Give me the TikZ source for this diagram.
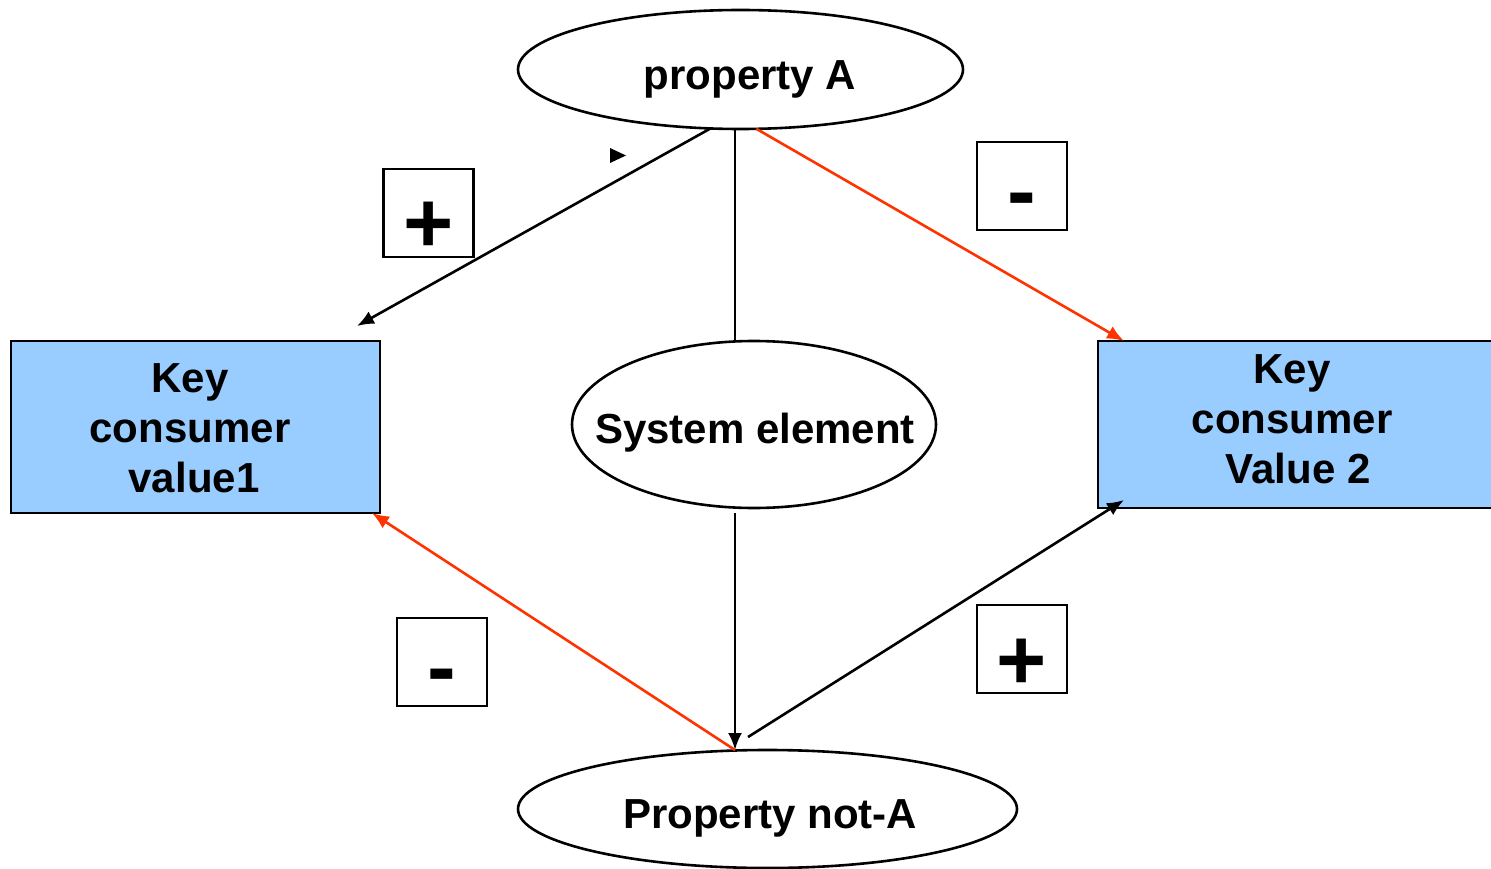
\documentclass[tikz,border=0pt]{standalone}
\usepackage{fontspec}
\setmainfont{Liberation Sans}
\usetikzlibrary{shapes.geometric,arrows.meta,calc}
\definecolor{keyblue}{HTML}{99CCFF}
\definecolor{negred}{HTML}{FF3300}
\tikzset{
  prop/.style={ellipse, draw, line width=2.6pt, inner sep=0pt, outer sep=0pt,
    text depth=0pt, font=\fontsize{42}{50}\selectfont\bfseries},
  keybox/.style={rectangle, draw, fill=keyblue, line width=2.6pt, inner sep=0pt,
    outer sep=0pt},
  keytext/.style={inner sep=0pt, align=center, font=\fontsize{42}{50}\selectfont\bfseries},
  signbox/.style={rectangle, draw, line width=2.4pt, minimum width=90pt,
    minimum height=88pt, inner sep=0pt, outer sep=0pt},
  sign/.style={inner sep=0pt, anchor=base, font=\fontsize{86}{86}\selectfont\bfseries},
  link/.style={line width=2.6pt},
  arr/.style={link, -{Latex[length=17pt,width=14pt]}},
}
\begin{document}
\begin{tikzpicture}[x=1pt,y=-1pt]
\useasboundingbox (0,0) rectangle (1491,869);
\clip (0,0) rectangle (1491,869);

% properties and the system element (text sits on a fixed baseline)
\node[prop, minimum width=445pt, minimum height=119pt, text height=41pt] (pa)
  at (740.5,69.5) {\makebox[0pt]{\hspace{19pt}property A}};
\node[prop, minimum width=364pt, minimum height=167pt, text height=37pt] (se)
  at (754,424.5) {\makebox[0pt]{\hspace{2pt}System element}};
\node[prop, minimum width=499pt, minimum height=118pt, text height=38pt] (pn)
  at (767.5,809) {\makebox[0pt]{\hspace{5pt}Property not-A}};

% key consumer values
\node[keybox, minimum width=369pt, minimum height=172pt] (k1) at (195.5,427) {};
\node[keytext] (k1t) at (190,428) {Key\\consumer\\\hspace{8pt}value1};
\node[keybox, minimum width=402pt, minimum height=167pt] (k2) at (1299,424.5) {};
\node[keytext] (k2t) at (1292,419) {Key\\consumer\\\hspace{12pt}Value 2};

% sign boxes
\node[signbox] (sp1) at (428.5,213) {};
\node[sign] (gp1) at (428.5,252) {+};
\node[signbox] (sm1) at (1022,186) {};
\node[sign] (gm1) at (1022,221) {-};
\node[signbox] (sm2) at (442,662) {};
\node[sign] (gm2) at (442,696) {-};
\node[signbox] (sp2) at (1022,649) {};
\node[sign] (gp2) at (1022,689) {+};

% connectors
\draw[arr] (pa.243.6) -- ([xshift=-23pt,yshift=15pt]k1.north east);
\draw[link] ([xshift=-5.5pt]pa.south) -- ([xshift=-19pt]se.north);
\draw[arr, negred] (pa.285.5) -- ([xshift=26pt]k2.north west);
\draw[arr] ([xshift=-19pt,yshift=-5pt]se.south) -- ([xshift=-32.5pt]pn.north);
\draw[arr, negred] ([xshift=-32.5pt]pn.north) -- ([xshift=-8pt]k1.south east);
\draw[arr] ([xshift=-19.5pt,yshift=13pt]pn.north) -- ([xshift=26pt,yshift=8pt]k2.south west);

% small loose arrowhead
\fill (610,148) -- (626,155.5) -- (610,163) -- cycle;
\end{tikzpicture}
\end{document}
